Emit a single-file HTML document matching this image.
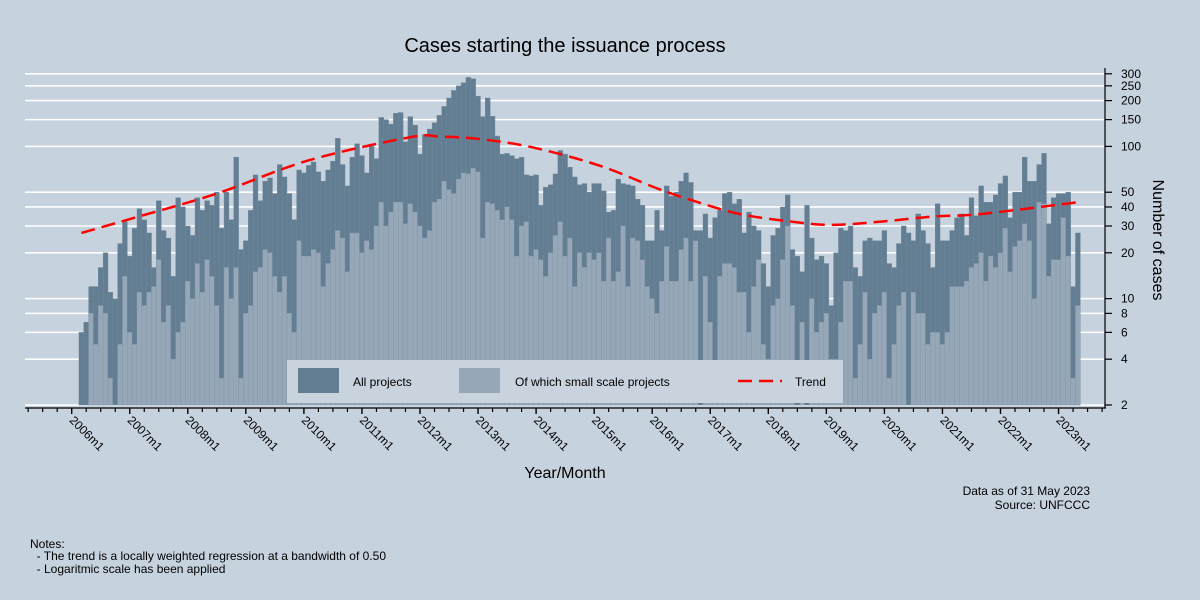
<!DOCTYPE html>
<html><head><meta charset="utf-8"><style>
body{margin:0;background:#c6d2de;}
svg{display:block;font-family:"Liberation Sans",Arial,sans-serif;}
</style></head><body>
<svg id="chart" width="1200" height="600" viewBox="0 0 1200 600">
<rect x="0" y="0" width="1200" height="600" fill="#c6d2de"/>
<text x="565" y="52" text-anchor="middle" font-size="20" fill="#000">Cases starting the issuance process</text>
<g id="grid"></g>
<g id="bars"></g>
<g id="trend"></g>
<g id="axes"></g>
<g>
<rect x="287" y="360" width="556" height="43" fill="#c8d3de"/>
<rect x="298" y="368" width="41" height="25" fill="#637e93"/>
<text x="353" y="386" font-size="12">All projects</text>
<rect x="459" y="368" width="41" height="25" fill="#96a7b8"/>
<text x="515" y="386" font-size="12">Of which small scale projects</text>
<line x1="738" y1="381" x2="782" y2="381" stroke="#ff0000" stroke-width="2.5" stroke-dasharray="14 7"/>
<text x="795" y="386" font-size="12">Trend</text>
</g>
<text x="565" y="478" text-anchor="middle" font-size="16">Year/Month</text>
<text transform="translate(1153,240) rotate(90)" text-anchor="middle" font-size="16">Number of cases</text>
<text x="1090" y="495" text-anchor="end" font-size="12">Data as of 31 May 2023</text>
<text x="1090" y="509" text-anchor="end" font-size="12">Source: UNFCCC</text>
<text x="30" y="548" font-size="12">Notes:</text>
<text x="30" y="560" font-size="12" xml:space="preserve">  - The trend is a locally weighted regression at a bandwidth of 0.50</text>
<text x="30" y="573" font-size="12" xml:space="preserve">  - Logaritmic scale has been applied</text>
</svg>
<script>
// Monthly data starting 2006m3 (month index 2 from 2006m1)
const startMonth = 2;
const allProjects = [6,7,12,12,16,20,11,10,23,32,
19,29,39,33,27,16,44,28,25,14,
46,40,30,26,46,38,44,41,50,29,
50,33,85,21,24,38,65,44,59,62,
49,76,63,49,33,70,67,75,79,68,
59,70,80,113,76,55,85,104,87,67,
100,83,155,150,140,165,167,107,157,138,
89,120,130,143,160,183,208,233,250,262,
284,278,214,157,208,158,117,89,90,87,
83,85,65,64,65,41,54,56,66,94,
89,73,63,56,57,50,57,57,51,37,
38,61,57,56,55,45,41,24,24,38,
28,55,47,50,59,67,58,28,28,36,
25,34,38,49,50,42,45,27,37,30,
28,17,12,26,29,40,48,21,19,15,
41,25,18,19,17,9,20,29,28,30,
16,14,24,25,24,24,28,17,16,23,
30,27,24,36,28,23,16,42,24,24,
28,34,
36,26,46,35,55,43,43,48,57,64,34,50,50,85,59,59,76,90,31,46,49,49,50,12,27];
const smallScale = [0,0,8,5,9,8,3,0,5,14,
6,5,11,9,11,12,18,7,9,4,
6,7,13,10,17,11,18,14,9,3,
16,10,16,3,8,9,15,16,21,20,
14,11,14,8,6,24,19,19,21,20,
12,17,21,28,25,15,27,27,20,24,
21,30,43,30,37,43,43,31,42,37,
30,25,28,43,45,59,52,49,61,67,
66,72,68,25,43,42,38,33,40,33,
19,30,32,19,21,18,14,20,26,32,
19,25,12,20,16,20,18,20,13,25,
13,15,30,12,25,24,18,12,10,8,
13,22,13,13,21,25,13,24,0,14,
7,3,14,17,17,16,11,11,6,12,
18,5,4,9,10,18,30,9,0,7,
0,10,6,7,8,4,4,7,13,13,
3,5,11,4,8,9,11,3,5,9,
11,0,11,8,8,5,6,6,5,6,
12,12,
12,13,16,17,20,13,19,16,20,29,15,22,24,31,24,10,43,42,14,18,18,34,19,3,9];
// Trend (lowess) read at month offsets from data start
const trendMonths = [0,11,28,47,68,74,82,93,107,119,126,136,147,155,165,176,186,206];
const trendValues = [27,34,49,81,115,116,112,99,75,53,44.5,36,32,30.5,32,34.6,36,43];
const yTicks = [2,4,6,8,10,20,30,40,50,100,150,200,250,300];
const yearLabels = ["2006m1","2007m1","2008m1","2009m1","2010m1","2011m1","2012m1","2013m1","2014m1","2015m1","2016m1","2017m1","2018m1","2019m1","2020m1","2021m1","2022m1","2023m1"];

const NS="http://www.w3.org/2000/svg";
const MW=4.8375;
function xScale(m){return 71.7+m*MW;}            // months since 2006m1
function yScale(v){return 405-(Math.log10(v)-Math.log10(2))*152.2;}
function mk(tag,attrs,parent){const e=document.createElementNS(NS,tag);for(const k in attrs)e.setAttribute(k,attrs[k]);parent.appendChild(e);return e;}

const grid=document.getElementById('grid');
yTicks.forEach(t=>{
  const l=mk('line',{x1:25,x2:1104,y1:yScale(t),y2:yScale(t),stroke:'#ffffff','stroke-width':1.6},grid);
  
  
});

const bars=document.getElementById('bars');
allProjects.forEach((v,i)=>{
  const cx=xScale(startMonth+i);
  if(v>2){
    const r=mk('rect',{x:cx-MW/2,y:yScale(v),width:MW,height:405-yScale(v),fill:'#637e93',stroke:'#6e8799','stroke-width':0.4},bars);
    
    
  }
  const s=smallScale[i];
  if(s>2){
    const r2=mk('rect',{x:cx-MW/2,y:yScale(s),width:MW,height:405-yScale(s),fill:'#96a7b8',stroke:'#8a9cad','stroke-width':0.4},bars);
    
    
  }
});

// trend: Catmull-Rom through read points
const tg=document.getElementById('trend');
const pts=trendMonths.map((m,i)=>[xScale(startMonth+m),yScale(trendValues[i])]);
let d='M'+pts[0][0]+','+pts[0][1];
for(let i=0;i<pts.length-1;i++){
  const p0=pts[Math.max(0,i-1)],p1=pts[i],p2=pts[i+1],p3=pts[Math.min(pts.length-1,i+2)];
  const c1=[p1[0]+(p2[0]-p0[0])/6,p1[1]+(p2[1]-p0[1])/6];
  const c2=[p2[0]-(p3[0]-p1[0])/6,p2[1]-(p3[1]-p1[1])/6];
  d+=' C'+c1[0]+','+c1[1]+' '+c2[0]+','+c2[1]+' '+p2[0]+','+p2[1];
}
const tp=mk('path',{d:d,fill:'none',stroke:'#ff0000','stroke-width':2.5,'stroke-dasharray':'14 7'},tg);



// axes
const ax=document.getElementById('axes');
const xa=mk('line',{x1:25,x2:1106,y1:408,y2:408,stroke:'#000','stroke-width':1.2},ax);


for(let m=-9;m<=213;m+=3){
  const x=xScale(m);
  const major=(m%12===0);
  const t=mk('line',{x1:x,x2:x,y1:408,y2:major?414:412,stroke:'#000','stroke-width':major?1.4:1.2},ax);
  
  
}
yearLabels.forEach((lab,i)=>{
  const x=xScale(i*12);
  const t=mk('text',{transform:'translate('+(x-3)+',421) rotate(45)','font-size':12},ax);
  t.textContent=lab;
  
  
});
const ya=mk('line',{x1:1105,x2:1105,y1:68,y2:408,stroke:'#000','stroke-width':1.2},ax);


yTicks.forEach(t=>{
  const y=yScale(t);
  const l=mk('line',{x1:1105,x2:1112,y1:y,y2:y,stroke:'#000','stroke-width':1.2},ax);
  
  
  const tx=mk('text',{x:1121,y:y+4,'font-size':12},ax);
  tx.textContent=t;
  
  
});
</script>
</body></html>
